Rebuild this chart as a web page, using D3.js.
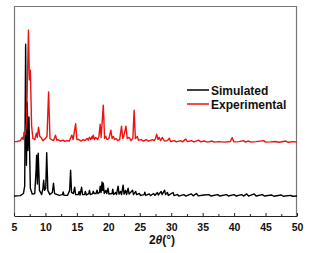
<!DOCTYPE html>
<html>
<head>
<meta charset="utf-8">
<script src="https://cdn.jsdelivr.net/npm/d3@7"></script>
<style>
  body { margin: 0; background: #fff; }
  svg { display: block; font-family: "Liberation Sans", Arial, sans-serif; }
</style>
</head>
<body>
<div id="chart"></div>
<script>
// x ticks (2theta, degrees)
const majorTicks = [5, 10, 15, 20, 25, 30, 35, 40, 45, 50];
const minorTicks = [7.5, 12.5, 17.5, 22.5, 27.5, 32.5, 37.5, 42.5, 47.5];

// vertical offsets of the two patterns (a.u.)
const simulatedOffset = 9.2;
const experimentalOffset = 34.9;

// simulated pattern, [2theta, intensity]
const simulated = [
  [5, 0.3], [6.0, 0.5], [6.5, 1.5], [6.7, 5], [6.85, 72.6], [6.98, 15], [7.1, 45], [7.22, 22],
  [7.38, 38], [7.6, 4], [7.9, 1.2], [8.3, 1.5], [8.5, 12], [8.6, 19.8], [8.72, 6], [8.85, 20.7],
  [9.05, 3], [9.4, 1], [9.6, 4], [9.72, 7.9], [9.85, 3], [10.05, 4], [10.2, 20.9], [10.38, 3],
  [10.7, 1], [11.1, 2], [11.28, 6.4], [11.45, 1.5], [12.2, 0.6], [12.7, 1], [12.82, 2.3], [12.95, 0.6],
  [13.5, 0.6], [13.85, 3], [14.0, 12.6], [14.15, 2], [14.45, 1.5], [14.65, 4.5], [14.8, 1], [15.2, 1],
  [15.35, 2.5], [15.5, 0.8], [15.75, 4.5], [15.9, 1], [16.2, 1], [16.35, 2.5], [16.5, 0.8], [16.9, 1.5],
  [17.0, 3], [17.15, 1], [17.5, 1.5], [17.6, 2.6], [17.75, 1.5], [18.05, 1.5], [18.2, 3.1], [18.35, 1.5],
  [18.6, 2], [18.7, 5], [18.85, 2], [19.0, 7], [19.1, 3], [19.2, 6.4], [19.35, 1.5], [19.6, 3],
  [19.75, 1.5], [19.95, 4], [20.1, 1.2], [20.6, 1.5], [20.7, 3.6], [20.85, 1], [21.15, 2], [21.3, 1],
  [21.55, 5], [21.7, 1.2], [21.95, 2.5], [22.1, 1], [22.35, 5.5], [22.5, 1.2], [22.75, 3], [22.9, 1],
  [23.15, 4], [23.3, 1.2], [23.85, 3.1], [24.0, 1], [24.35, 2.5], [24.5, 1], [24.95, 1.5], [25.1, 0.6],
  [25.7, 1], [25.8, 2.1], [25.95, 0.6], [26.5, 1.3], [26.7, 0.5], [27.2, 1.5], [27.4, 0.6], [27.8, 2],
  [27.95, 0.8], [28.4, 2.5], [28.55, 1], [28.95, 3.1], [29.1, 1], [29.4, 2], [29.55, 0.6], [30.3, 2],
  [30.45, 0.5], [31, 1], [31.2, 0.3], [32, 1], [32.3, 0.3], [33.2, 1.3], [33.5, 0.4], [34, 1.5],
  [34.3, 0.4], [35.2, 0.8], [36, 1], [36.3, 0.3], [37.4, 1], [37.7, 0.3], [38.8, 1], [39.1, 0.3],
  [40, 1], [40.3, 0.3], [41.2, 1], [41.5, 0.3], [42, 1.3], [42.3, 0.3], [43.2, 1.3], [43.5, 0.3],
  [44.5, 1], [44.8, 0.3], [46, 0.8], [46.3, 0.2], [47.5, 0.8], [47.8, 0.2], [49, 0.6], [49.3, 0.2],
  [50, 0.3]
];

// experimental pattern, [2theta, intensity]
const experimental = [
  [5, 0.5], [5.5, 0.6], [6.0, 1], [6.3, 2.5], [6.45, 1.5], [6.6, 5], [6.8, 4], [7.0, 10],
  [7.3, 53.6], [7.45, 30], [7.6, 34.5], [7.8, 8], [8.0, 2], [8.3, 1.5], [8.55, 4.5], [8.7, 2.5],
  [8.9, 7.4], [9.1, 3], [9.3, 2.5], [9.6, 1], [10.0, 2], [10.25, 3], [10.5, 24.2], [10.72, 2],
  [11.0, 1.5], [11.3, 1], [11.6, 3.6], [11.8, 1.2], [12.0, 1.5], [12.4, 0.8], [12.8, 1.2], [13.1, 0.6],
  [13.4, 1], [13.8, 0.8], [14.2, 3.6], [14.4, 1.5], [14.8, 9], [15.0, 1.5], [15.3, 1.5], [15.6, 0.8],
  [16.0, 1.5], [16.3, 1], [16.6, 2], [16.8, 1.2], [17.0, 2.6], [17.2, 1.5], [17.4, 3], [17.5, 2],
  [17.6, 3.6], [17.8, 1.5], [18.0, 2.5], [18.3, 1.5], [18.5, 3], [18.7, 8.8], [18.85, 2.5], [19.2, 17.9],
  [19.4, 2], [19.6, 3], [19.8, 1.5], [20.1, 2], [20.4, 6], [20.6, 2], [20.8, 3], [21.0, 1.5],
  [21.2, 2], [21.5, 1], [21.8, 1.5], [22.1, 7.9], [22.3, 2], [22.45, 3], [22.8, 7.9], [23.0, 2],
  [23.3, 2.5], [23.6, 1], [23.9, 2], [24.1, 15.5], [24.3, 2], [24.6, 3], [24.8, 1.2], [25.2, 1.5],
  [25.6, 0.8], [26.0, 1.5], [26.4, 0.8], [27.0, 1.5], [27.3, 1], [27.5, 2], [27.7, 4], [27.9, 1.5],
  [28.1, 2.5], [28.3, 1], [28.6, 2.5], [28.9, 0.8], [29.4, 1], [29.7, 2.1], [29.9, 0.6], [30.5, 1],
  [30.8, 0.4], [31.5, 1], [31.8, 0.4], [32.3, 1.7], [32.6, 0.5], [33.2, 1], [33.6, 0.4], [34.4, 1.2],
  [34.7, 0.4], [35.2, 0.8], [35.8, 0.3], [36.5, 0.8], [36.9, 0.3], [37.5, 0.5], [38.5, 0.3], [39.4, 0.6],
  [39.7, 2.4], [39.95, 0.4], [40.8, 0.5], [41.5, 1], [41.8, 0.3], [42.2, 0.8], [42.7, 0.3], [43.5, 0.5],
  [44.7, 1], [45.0, 0.3], [45.8, 0.4], [46.5, 0.6], [47.2, 0.2], [48.2, 0.8], [48.6, 0.2], [49.5, 0.5],
  [50, 0.3]
];

const seriesNames = ["Simulated", "Experimental"];
const seriesColors = ["#000000", "#ee1111"];

const width = 313;
const height = 253;
const margin = { top: 6, right: 16, bottom: 37, left: 14 };
const innerW = width - margin.left - margin.right;
const innerH = height - margin.top - margin.bottom;

const svg = d3.select("#chart").append("svg")
    .attr("width", width)
    .attr("height", height)
    .append("g")
    .attr("transform", `translate(${margin.left}, ${margin.top})`);

const x = d3.scaleLinear().domain([5, 50]).range([0, innerW]);
const y = d3.scaleLinear().domain([0, 100]).range([innerH, 0]);

// frame (left, top, right)
svg.append("path")
    .attr("d", `M0.5,${innerH} V0.5 H${innerW - 0.5} V${innerH}`)
    .attr("fill", "none")
    .attr("stroke", "#777")
    .attr("stroke-width", 1.2);

// patterns
const line = d3.line()
    .x(d => x(d[0]))
    .y(d => y(d[1]));

svg.append("path")
    .datum(simulated.map(d => [d[0], d[1] + simulatedOffset]))
    .attr("fill", "none")
    .attr("stroke", seriesColors[0])
    .attr("stroke-width", 1.4)
    .attr("stroke-linejoin", "round")
    .attr("d", line);

svg.append("path")
    .datum(experimental.map(d => [d[0], d[1] + experimentalOffset]))
    .attr("fill", "none")
    .attr("stroke", seriesColors[1])
    .attr("stroke-width", 1.4)
    .attr("stroke-linejoin", "round")
    .attr("d", line);

// bottom axis, ticks pointing inward
const xAxis = svg.append("g")
    .attr("transform", `translate(0,${innerH})`)
    .call(d3.axisBottom(x).tickValues(majorTicks).tickSizeInner(-3).tickSizeOuter(0).tickPadding(8));
xAxis.select(".domain").attr("stroke", "#222").attr("stroke-width", 1.2);
xAxis.selectAll(".tick line").attr("stroke", "#222");
xAxis.selectAll("text")
    .style("font-size", "10.5px")
    .style("font-weight", "bold")
    .attr("fill", "#111");

svg.append("g")
    .attr("transform", `translate(0,${innerH})`)
    .call(d3.axisBottom(x).tickValues(minorTicks).tickSizeInner(-2).tickSizeOuter(0).tickFormat(""))
    .call(g => g.select(".domain").remove())
    .selectAll(".tick line").attr("stroke", "#222");

// x-axis title
const title = svg.append("text")
    .attr("x", 148)
    .attr("y", innerH + 28)
    .attr("text-anchor", "middle")
    .style("font-size", "12px")
    .style("font-weight", "bold")
    .attr("fill", "#111");
title.append("tspan").text("2");
title.append("tspan").style("font-style", "italic").text("θ");
title.append("tspan").text("(°)");

// legend
const legend = svg.append("g").attr("transform", "translate(173, 84)");
seriesNames.forEach((name, i) => {
    const row = legend.append("g").attr("transform", `translate(0, ${i * 14})`);
    row.append("line")
        .attr("x1", 0).attr("x2", 22)
        .attr("y1", 0).attr("y2", 0)
        .attr("stroke", seriesColors[i])
        .attr("stroke-width", 1.5);
    row.append("text")
        .attr("x", 24)
        .attr("y", 4.5)
        .style("font-size", "12px")
        .style("font-weight", "bold")
        .attr("fill", "#111")
        .text(name);
});
</script>
</body>
</html>
